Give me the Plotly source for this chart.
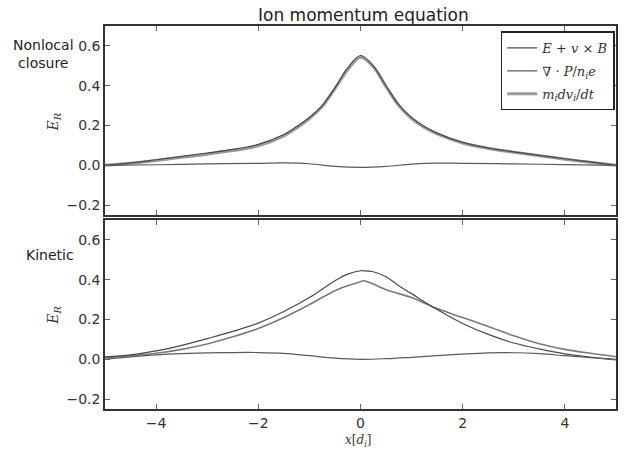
import plotly.graph_objects as go

# ---- data ----
x_top = [-5, -4.5, -4, -3.5, -3, -2.5, -2, -1.5, -1.25, -1, -0.75, -0.5, -0.25, 0,
         0.25, 0.5, 0.75, 1, 1.25, 1.5, 2, 2.5, 3, 3.5, 4, 4.5, 5]
top_evb = [0.0, 0.012, 0.028, 0.045, 0.062, 0.08, 0.105, 0.155, 0.195, 0.24, 0.30, 0.39, 0.49, 0.552,
           0.50, 0.40, 0.305, 0.24, 0.195, 0.162, 0.115, 0.088, 0.068, 0.05, 0.033, 0.017, 0.0]
top_mdv = [0.0, 0.010, 0.024, 0.040, 0.056, 0.074, 0.098, 0.148, 0.188, 0.235, 0.295, 0.385, 0.48, 0.543,
           0.495, 0.395, 0.30, 0.235, 0.19, 0.158, 0.112, 0.085, 0.066, 0.048, 0.031, 0.015, 0.0]
x_top_p = [-5, -4, -3, -2, -1.5, -1, -0.5, 0, 0.5, 1, 1.5, 2, 3, 4, 5]
top_divp = [0.0, 0.003, 0.007, 0.010, 0.012, 0.008, -0.005, -0.01, -0.005, 0.006, 0.011, 0.010, 0.007, 0.004, 0.0]

x_bot = [-5, -4.5, -4, -3.5, -3, -2.5, -2, -1.5, -1, -0.5, -0.25, 0, 0.05, 0.25, 0.5, 0.75,
         1, 1.5, 2, 2.5, 3, 3.5, 4, 4.5, 5]
bot_evb = [0.012, 0.022, 0.042, 0.07, 0.104, 0.14, 0.182, 0.24, 0.31, 0.395, 0.428, 0.445, 0.445, 0.44, 0.415, 0.37,
           0.33, 0.25, 0.18, 0.125, 0.082, 0.052, 0.027, 0.011, -0.003]
bot_mdv = [0.008, 0.018, 0.03, 0.05, 0.077, 0.113, 0.155, 0.21, 0.275, 0.345, 0.37, 0.39, 0.395, 0.378, 0.35, 0.33,
           0.31, 0.255, 0.21, 0.165, 0.118, 0.078, 0.05, 0.03, 0.013]
x_bot_p = [-5, -4.5, -4, -3.5, -3, -2.5, -2, -1.5, -1, -0.5, 0, 0.5, 1, 1.5, 2, 2.5, 3, 3.5, 4, 4.5, 5]
bot_divp = [0.0, 0.012, 0.022, 0.028, 0.032, 0.034, 0.034, 0.03, 0.018, 0.006, 0.0, 0.003, 0.01, 0.018,
            0.026, 0.032, 0.033, 0.028, 0.018, 0.008, 0.0]

x_ticks = [-4, -2, 0, 2, 4]
y_ticks = [-0.2, 0.0, 0.2, 0.4, 0.6]

names = ["<i>E</i> + <i>v</i> × <i>B</i>",
         "∇ · <i>P</i>/<i>n</i><sub><i>i</i></sub><i>e</i>",
         "<i>m</i><sub><i>i</i></sub><i>dv</i><sub><i>i</i></sub>/<i>dt</i>"]

c_evb = "#4a4a4a"
c_divp = "#5a5a5a"
c_mdv = "#9a9a9a"
c_mdv_bot = "#7a7a7a"

fig = go.Figure()
# top panel
fig.add_trace(go.Scatter(x=x_top, y=top_mdv, mode="lines", line=dict(color=c_mdv, width=3, shape="spline"),
                         name=names[2], xaxis="x", yaxis="y", showlegend=False))
fig.add_trace(go.Scatter(x=x_top, y=top_evb, mode="lines", line=dict(color=c_evb, width=1.2, shape="spline"),
                         name=names[0], xaxis="x", yaxis="y", legendgroup="a", legendrank=1))
fig.add_trace(go.Scatter(x=x_top_p, y=top_divp, mode="lines", line=dict(color=c_divp, width=1.2, shape="spline"),
                         name=names[1], xaxis="x", yaxis="y", legendgroup="b", legendrank=2))
fig.add_trace(go.Scatter(x=[None], y=[None], mode="lines", line=dict(color=c_mdv, width=3),
                         name=names[2], xaxis="x", yaxis="y", legendgroup="c", legendrank=3))
# bottom panel
fig.add_trace(go.Scatter(x=x_bot, y=bot_mdv, mode="lines", line=dict(color=c_mdv_bot, width=1.6, shape="spline"),
                         xaxis="x2", yaxis="y2", showlegend=False))
fig.add_trace(go.Scatter(x=x_bot, y=bot_evb, mode="lines", line=dict(color=c_evb, width=1.2, shape="spline"),
                         xaxis="x2", yaxis="y2", showlegend=False))
fig.add_trace(go.Scatter(x=x_bot_p, y=bot_divp, mode="lines", line=dict(color=c_divp, width=1.2, shape="spline"),
                         xaxis="x2", yaxis="y2", showlegend=False))

axis_common = dict(range=[-5, 5], showline=True, linecolor="#333", linewidth=1.5, mirror="ticks",
                   ticks="inside", ticklen=5, tickcolor="#666", tickvals=x_ticks, showgrid=False,
                   zeroline=False, tickfont=dict(family="DejaVu Sans", size=14, color="#333"))
yaxis_common = dict(range=[-0.25, 0.7], showline=True, linecolor="#333", linewidth=1.5, mirror="ticks",
                    ticks="inside", ticklen=5, tickcolor="#666", tickvals=y_ticks, tickformat=".1f",
                    showgrid=False, zeroline=False,
                    tickfont=dict(family="DejaVu Sans", size=14, color="#333"))

fig.update_layout(
    width=626, height=449,
    margin=dict(l=0, r=0, t=0, b=0),
    paper_bgcolor="white", plot_bgcolor="white",
    xaxis=dict(domain=[0.1677, 0.984], anchor="y", showticklabels=False, **axis_common),
    yaxis=dict(domain=[0.521, 0.942], anchor="x", **yaxis_common),
    xaxis2=dict(domain=[0.1677, 0.984], anchor="y2", ticklabelstandoff=0, **axis_common),
    yaxis2=dict(domain=[0.089, 0.510], anchor="x2", **yaxis_common),
    legend=dict(x=0.982, y=0.93, xanchor="right", yanchor="top", bordercolor="#222", borderwidth=1.5,
                bgcolor="white", font=dict(family="DejaVu Serif", size=13, color="#333"),
                tracegroupgap=3, itemwidth=30),
    showlegend=True,
)

annotations = [
    dict(text="Ion momentum equation", x=0.58, y=0.966, xref="paper", yref="paper", showarrow=False,
         xanchor="center", yanchor="middle", font=dict(family="DejaVu Sans", size=17, color="#222")),
    dict(text="Nonlocal<br>closure", x=0.069, y=0.879, xref="paper", yref="paper", showarrow=False,
         xanchor="center", yanchor="middle", align="center",
         font=dict(family="DejaVu Sans", size=14, color="#222")),
    dict(text="Kinetic", x=0.080, y=0.433, xref="paper", yref="paper", showarrow=False,
         xanchor="center", yanchor="middle", font=dict(family="DejaVu Sans", size=14, color="#222")),
    dict(text="<i>E</i><sub><i>R</i></sub>", x=0.087, y=0.728, xref="paper", yref="paper", showarrow=False,
         textangle=-90, xanchor="center", yanchor="middle",
         font=dict(family="DejaVu Serif", size=14, color="#333")),
    dict(text="<i>E</i><sub><i>R</i></sub>", x=0.087, y=0.298, xref="paper", yref="paper", showarrow=False,
         textangle=-90, xanchor="center", yanchor="middle",
         font=dict(family="DejaVu Serif", size=14, color="#333")),
    dict(text="<i>x</i>[<i>d</i><sub><i>i</i></sub>]", x=0.573, y=-0.004, xref="paper", yref="paper",
         showarrow=False, xanchor="center", yanchor="bottom",
         font=dict(family="DejaVu Serif", size=12, color="#333")),
]
fig.update_layout(annotations=annotations)

fig.write_html("out.html", config={"displayModeBar": False},
               post_script="document.body.style.margin='0';document.body.style.padding='0';")
